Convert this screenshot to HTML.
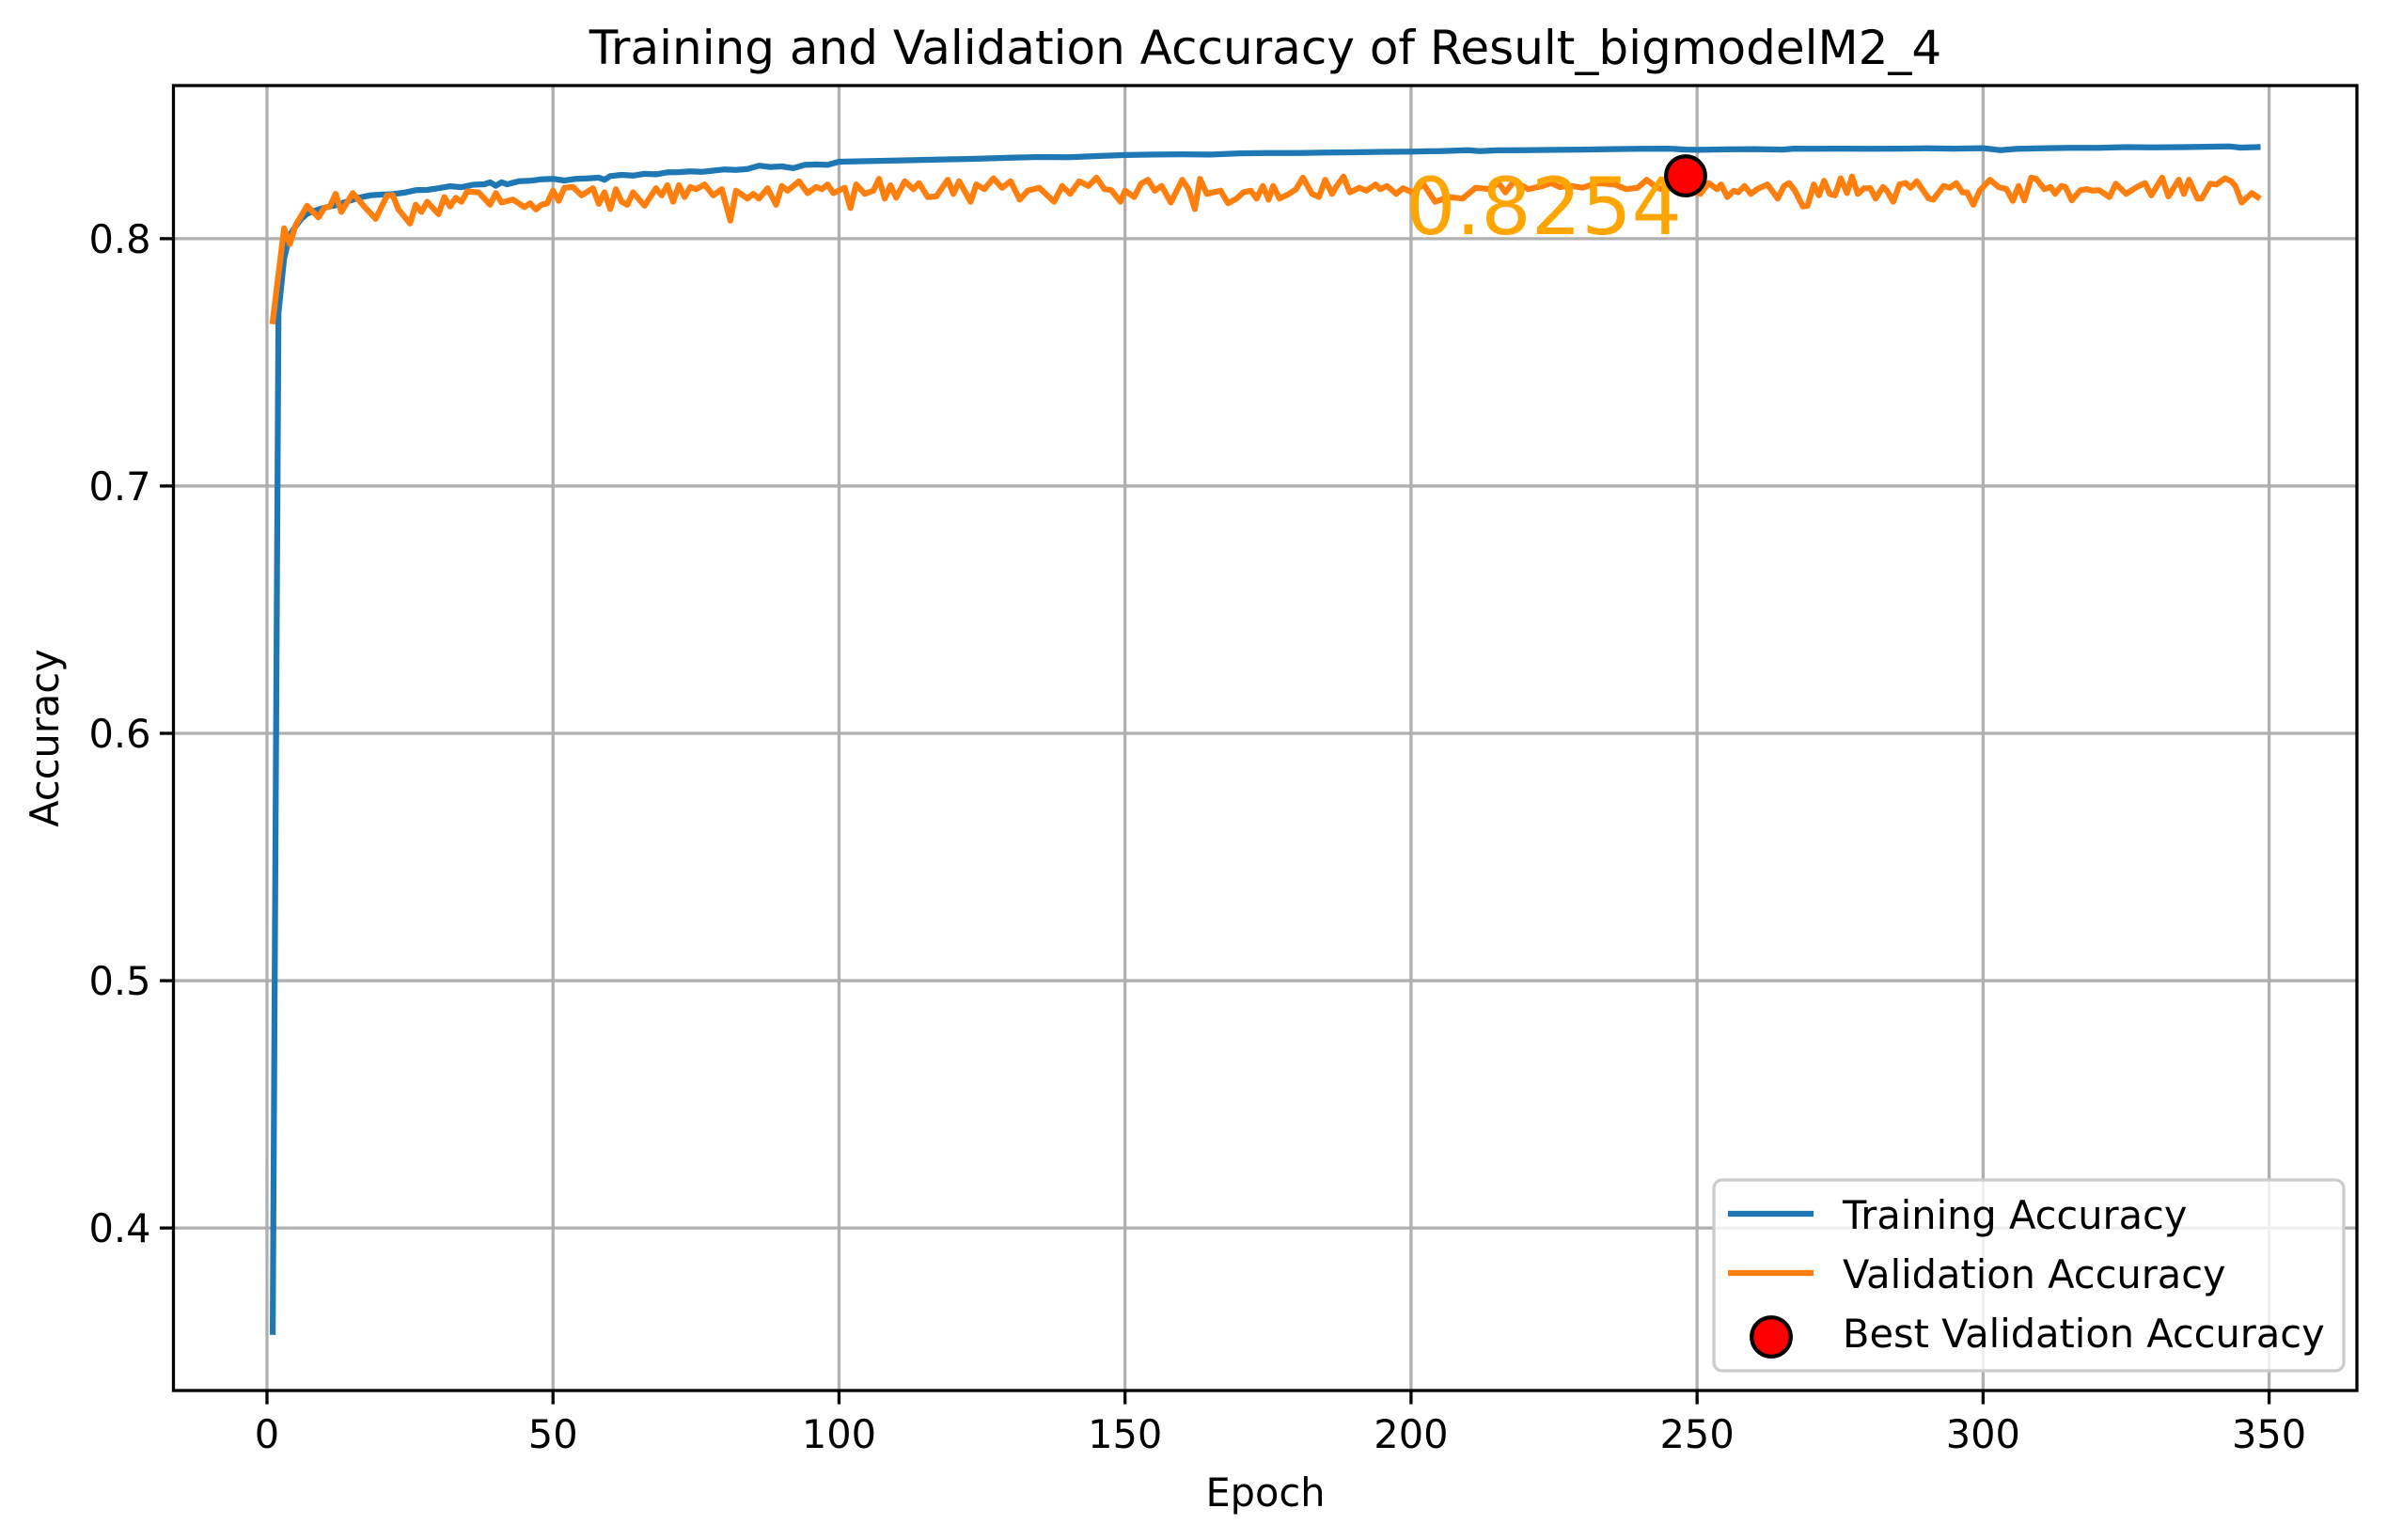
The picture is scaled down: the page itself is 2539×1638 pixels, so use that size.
<!DOCTYPE html>
<html><head><meta charset="utf-8"><style>
html,body{margin:0;padding:0;background:#fff;}
svg{display:block;font-family:"DejaVu Sans","Liberation Sans",sans-serif;}
</style></head><body>
<svg id="chart" width="2539" height="1638" viewBox="0 0 2539 1638" xmlns="http://www.w3.org/2000/svg">
<rect width="2539" height="1638" fill="#fff"/>
<text x="1346" y="68" font-size="50" text-anchor="middle">Training and Validation Accuracy of Result_bigmodelM2_4</text>
<text x="1346" y="1602" font-size="41.5" text-anchor="middle">Epoch</text>
<text x="0" y="0" font-size="41.5" text-anchor="middle" transform="translate(62,785) rotate(-90)">Accuracy</text>
<g id="grid"></g>
<g id="ticks"></g>
<g id="series"></g>
<rect x="184.5" y="91" width="2322.5" height="1388" fill="none" stroke="#000" stroke-width="3.3"/>
<g>
<rect x="1823" y="1255" width="670" height="203" rx="9" fill="#fff" fill-opacity="0.8" stroke="#cccccc" stroke-width="3.3"/>
<line x1="1838" y1="1291" x2="1929" y2="1291" stroke="#1f77b4" stroke-width="6.25"/>
<text x="1960" y="1307" font-size="41.5">Training Accuracy</text>
<line x1="1838" y1="1354" x2="1929" y2="1354" stroke="#ff7f0e" stroke-width="6.25"/>
<text x="1960" y="1370" font-size="41.5">Validation Accuracy</text>
<circle cx="1884" cy="1422" r="20.8" fill="#ff0000" stroke="#000" stroke-width="4.2"/>
<text x="1960" y="1433" font-size="41.5">Best Validation Accuracy</text>
</g>
</svg>
<script>
const xTicks=[0,50,100,150,200,250,300,350];
const yTicks=[0.4,0.5,0.6,0.7,0.8];
const yTickLabels=["0.4","0.5","0.6","0.7","0.8"];
const trainEpoch=[1,2,3,4,5,6,7,8,10,12,14,16,18,20,22,24,26,28,30,32,34,36,38,39,40,41,42,44,46,48,50,52,54,56,58,59,60,62,64,66,68,70,72,74,76,78,80,82,84,86,88,90,92,94,96,98,100,110,120,124,130,135,140,145,150,155,160,165,170,175,180,185,190,195,200,205,210,212,215,220,225,230,235,240,245,248,250,255,260,265,267,270,275,280,285,290,295,300,303,306,310,315,320,325,330,335,340,343,345,348];
const trainAcc=[0.358,0.770,0.792,0.8015,0.805,0.808,0.810,0.811,0.8125,0.8135,0.815,0.8165,0.8175,0.8178,0.818,0.8186,0.8196,0.8197,0.8204,0.8212,0.8208,0.8218,0.822,0.8228,0.8214,0.8228,0.822,0.8232,0.8234,0.824,0.8242,0.8235,0.8242,0.8244,0.8247,0.8238,0.8253,0.8258,0.8255,0.8262,0.826,0.8268,0.8269,0.8272,0.827,0.8275,0.828,0.8278,0.8282,0.8295,0.829,0.8292,0.8285,0.8298,0.830,0.8298,0.8311,0.8316,0.8321,0.8323,0.8327,0.8330,0.8329,0.8334,0.8338,0.8340,0.8341,0.8340,0.8345,0.8346,0.8346,0.8348,0.8349,0.8351,0.8352,0.8354,0.8358,0.8354,0.8357,0.8358,0.8359,0.8360,0.8362,0.8363,0.8364,0.8360,0.8359,0.8361,0.8362,0.8360,0.8364,0.8363,0.8364,0.8363,0.8364,0.8365,0.8364,0.8366,0.8358,0.8363,0.8365,0.8367,0.8367,0.8370,0.8369,0.8370,0.8372,0.8373,0.8368,0.8370];
const valEpoch=[1,3,4,5,7,9,10,11,12,13,15,17,19,21,22,23,25,26,27,28,30,31,32,33,34,35,37,39,40,41,43,45,46,47,48,49,50,51,52,53.5,55,57,58,59,60,61,62,63,64,66,68,69,70,71,72,73,74,75,76.5,78,79.5,81,82,84,85,86,87.5,89,90,91,93,94.5,96,97,98,99,101,102,103,104.5,106,107,108,109,110,111.5,113,114,115.5,117,119,120,121,123,124,125.4,127,128.5,130,131.6,133,135,137.6,139,140.4,142,143.6,145,146.4,147.6,149.2,150,151.6,152.8,154,155.2,156.4,158,160,161.1,162.2,163.1,164.3,166.7,168,169.5,170.7,172,173,174.1,175.1,175.9,177,178.7,179.9,181.1,182.7,183.9,185,186.2,187,188.2,189.3,191,192.2,193.8,194.6,195.8,197.4,198.6,200.2,202.2,204.2,206.6,209,211.3,213.7,215.3,216.5,218,220.5,223,224.5,226,228,230,232.5,235.6,237.6,239.6,241.2,242.8,244.5,246,247,248,249,250.6,252,253.5,254.2,255.3,256.4,257.2,258.3,259.4,260.5,262.3,264.1,265.2,266.1,267.1,268.5,269.3,270.4,271.3,272.2,273.2,274.1,275.1,276.2,277.1,278.1,279.2,280.3,281.2,282.5,283.2,284.3,285.4,286.5,287.3,288.4,290.5,291.3,293.1,294.2,295.3,296.4,297.2,298.3,299.4,301.2,302.7,304.1,305.2,306.2,307.2,308.4,309.3,310.7,311.8,312.6,313.7,314.4,315.5,317,318.1,319.2,320.3,322.1,323.2,325,326.9,328.3,329.4,331.3,332.4,334.2,335.1,336,337.5,338.2,339.7,340.8,342.3,343.4,344.1,345.2,347,348];
const valAcc=[0.7666,0.8042,0.7978,0.8054,0.8133,0.8086,0.8124,0.8130,0.8181,0.8108,0.8184,0.8130,0.8080,0.8175,0.8175,0.8118,0.8061,0.8137,0.8108,0.8149,0.8099,0.8168,0.8130,0.8165,0.8149,0.8191,0.8187,0.8137,0.8184,0.8146,0.8158,0.8128,0.8143,0.8118,0.8137,0.8143,0.8194,0.8153,0.8206,0.8209,0.8175,0.8204,0.8141,0.8187,0.8120,0.8200,0.8149,0.8137,0.8187,0.8133,0.8204,0.8175,0.8216,0.8149,0.8216,0.8168,0.8209,0.8200,0.8219,0.8175,0.8200,0.8073,0.8194,0.8162,0.8181,0.8162,0.8204,0.8137,0.8213,0.8194,0.8232,0.8184,0.8209,0.8200,0.8219,0.8184,0.8206,0.8124,0.8219,0.8181,0.8194,0.8242,0.8162,0.8216,0.8166,0.8232,0.8200,0.8225,0.8168,0.8171,0.8238,0.8181,0.8232,0.8149,0.8219,0.8200,0.8244,0.8206,0.8232,0.8158,0.8194,0.8206,0.8149,0.8213,0.8181,0.8232,0.8213,0.8247,0.8200,0.8196,0.8149,0.8194,0.8168,0.8222,0.8238,0.8194,0.8213,0.8146,0.8238,0.8200,0.8120,0.8242,0.8181,0.8194,0.8143,0.8162,0.8187,0.8194,0.8162,0.8213,0.8158,0.8213,0.8162,0.8181,0.8200,0.8247,0.8181,0.8168,0.8238,0.8181,0.8213,0.8251,0.8187,0.8206,0.8194,0.8219,0.8200,0.8213,0.8181,0.8204,0.8187,0.8219,0.8149,0.8168,0.8162,0.8206,0.8200,0.8225,0.8187,0.8232,0.8200,0.8213,0.8225,0.8209,0.8213,0.8206,0.8225,0.8219,0.8200,0.8206,0.8238,0.8209,0.8194,0.8219,0.8232,0.8254,0.8200,0.8181,0.8225,0.8200,0.8219,0.8168,0.8194,0.8187,0.8213,0.8181,0.8200,0.8219,0.8162,0.8213,0.8225,0.8194,0.8130,0.8133,0.8219,0.8175,0.8234,0.8181,0.8175,0.8244,0.8184,0.8251,0.8181,0.8204,0.8204,0.8162,0.8209,0.8194,0.8149,0.8219,0.8225,0.8206,0.8232,0.8162,0.8158,0.8213,0.8206,0.8225,0.8187,0.8187,0.8137,0.8194,0.8238,0.8209,0.8200,0.8153,0.8213,0.8155,0.8247,0.8242,0.8200,0.8209,0.8181,0.8213,0.8209,0.8155,0.8196,0.8200,0.8194,0.8196,0.8168,0.8222,0.8181,0.8209,0.8225,0.8175,0.8247,0.8171,0.8238,0.8181,0.8238,0.8162,0.8162,0.8222,0.8219,0.8244,0.8232,0.8213,0.8146,0.8184,0.8168];
const bestEpoch=248;
const bestAcc=0.8254;

const NS="http://www.w3.org/2000/svg";
const X0=184.5,X1=2507,Y0=91,Y1=1479;
const xMin=-16.35,xMax=365.35,yMin=0.3343,yMax=0.8619;
function xs(v){return X0+(v-xMin)/(xMax-xMin)*(X1-X0);}
function ys(v){return Y1-(v-yMin)/(yMax-yMin)*(Y1-Y0);}
function mk(tag,attrs,parent){const e=document.createElementNS(NS,tag);for(const k in attrs)e.setAttribute(k,attrs[k]);parent.appendChild(e);return e;}
const grid=document.getElementById('grid'),ticks=document.getElementById('ticks'),series=document.getElementById('series');
xTicks.forEach(t=>{
  const x=xs(t);
  const g=mk('line',{x1:x,y1:Y0,x2:x,y2:Y1,stroke:'#b0b0b0','stroke-width':3.3},grid);
  
  
  const tk=mk('line',{x1:x,y1:Y1,x2:x,y2:Y1+14.6,stroke:'#000','stroke-width':3.3},ticks);
  
  
  const tl=mk('text',{x:x,y:1540,'font-size':41.5,'text-anchor':'middle'},ticks);
  tl.textContent=String(t);
  
  
});
yTicks.forEach((t,i)=>{
  const y=ys(t);
  const g=mk('line',{x1:X0,y1:y,x2:X1,y2:y,stroke:'#b0b0b0','stroke-width':3.3},grid);
  
  
  const tk=mk('line',{x1:X0-14.6,y1:y,x2:X0,y2:y,stroke:'#000','stroke-width':3.3},ticks);
  
  
  const tl=mk('text',{x:X0-24,y:y+15,'font-size':41.5,'text-anchor':'end'},ticks);
  tl.textContent=yTickLabels[i];
  
  
});
function path(ex,ac){return ex.map((e,i)=>(i?'L':'M')+xs(e).toFixed(1)+' '+ys(ac[i]).toFixed(1)).join(' ');}
const tp=mk('path',{d:path(trainEpoch,trainAcc),fill:'none',stroke:'#1f77b4','stroke-width':6.25,'stroke-linejoin':'round','stroke-linecap':'square'},series);


const vp=mk('path',{d:path(valEpoch,valAcc),fill:'none',stroke:'#ff7f0e','stroke-width':6.25,'stroke-linejoin':'round','stroke-linecap':'square'},series);


const bx=xs(bestEpoch),by=ys(bestAcc);
const bt=mk('text',{x:bx-4,y:by+62,'font-size':84,'text-anchor':'end',fill:'#ffa500'},series);
bt.textContent=bestAcc.toFixed(4);


const bm=mk('circle',{cx:bx,cy:by,r:20.8,fill:'#ff0000',stroke:'#000','stroke-width':4.2},series);


</script>
</body></html>
